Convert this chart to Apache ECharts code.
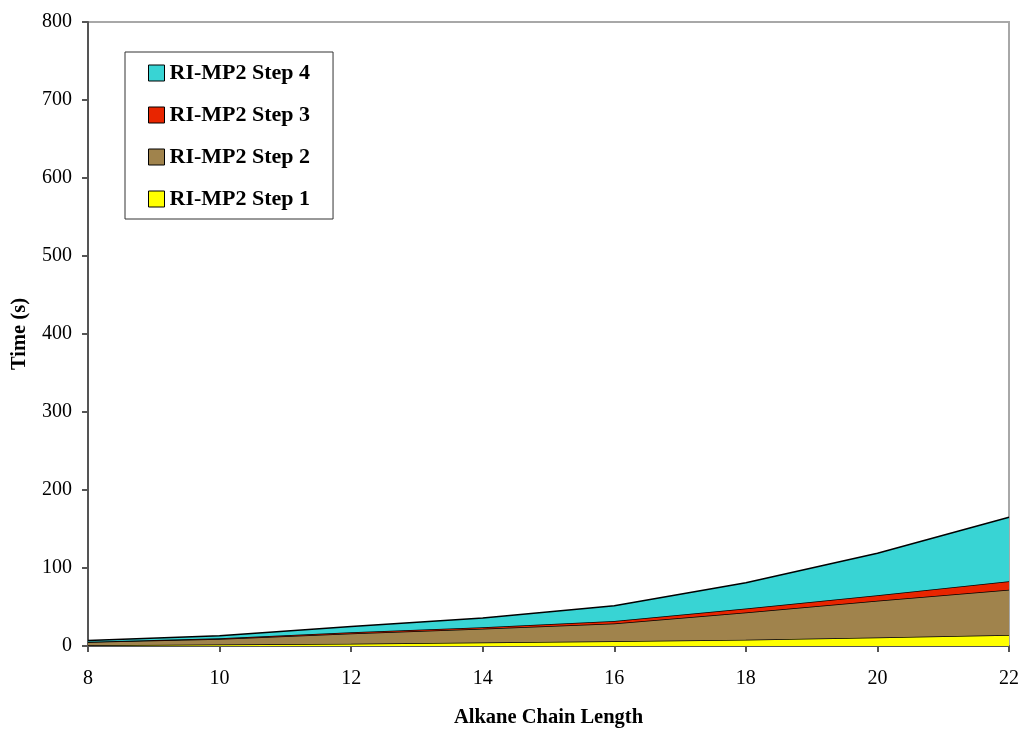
<!DOCTYPE html>
<html>
<head>
<meta charset="utf-8">
<script src="https://cdn.jsdelivr.net/npm/echarts@6/dist/echarts.min.js"></script>
<style>
html,body{margin:0;padding:0;background:#fff;}
#chart{width:1024px;height:732px;}
</style>
</head>
<body>
<div id="chart"></div>
<script>
const chainLength = ['8', '10', '12', '14', '16', '18', '20', '22'];
const step1 = [1, 2, 3, 4.5, 6, 8, 11, 14];
const step2 = [4, 7, 13, 17.5, 23, 35, 47, 58];
const step3 = [0.5, 1, 1.5, 2, 3, 5, 7, 11];
const step4 = [1.5, 3, 7.5, 12, 19.5, 33, 54, 82];
const seriesNames = ['RI-MP2 Step 1', 'RI-MP2 Step 2', 'RI-MP2 Step 3', 'RI-MP2 Step 4'];
const seriesColors = ['#ffff00', '#a0834c', '#e82500', '#38d4d4'];
const seriesData = [step1, step2, step3, step4];

const font = '"Liberation Serif", "Times New Roman", serif';
const chart = echarts.init(document.getElementById('chart'));
chart.setOption({
  animation: false,
  backgroundColor: '#fff',
  textStyle: { fontFamily: font },
  grid: { left: 88, right: 15, top: 22, bottom: 86, outerBoundsMode: 'none', containLabel: false, show: true, borderColor: '#a8a8a8', borderWidth: 2, backgroundColor: 'transparent' },
  legend: {
    orient: 'vertical',
    left: 125, top: 52,
    data: seriesNames.slice().reverse(),
    itemWidth: 16, itemHeight: 16,
    itemGap: 20,
    padding: [10, 23, 9, 23],
    borderColor: '#333', borderWidth: 1,
    icon: 'rect',
    itemStyle: { borderColor: '#000', borderWidth: 1 },
    textStyle: { fontFamily: font, fontSize: 22, fontWeight: 'bold', color: '#000' }
  },
  xAxis: {
    type: 'category', data: chainLength, boundaryGap: false,
    name: 'Alkane Chain Length', nameLocation: 'middle', nameGap: 61,
    nameTextStyle: { fontFamily: font, fontSize: 20.5, fontWeight: 'bold', color: '#000' },
    axisLine: { lineStyle: { color: '#555', width: 2 } },
    axisTick: { inside: false, length: 6, alignWithLabel: true, lineStyle: { color: '#555', width: 2 } },
    axisLabel: { margin: 23, fontFamily: font, fontSize: 20, color: '#000' },
    splitLine: { show: false }
  },
  yAxis: {
    type: 'value', min: 0, max: 800, interval: 100,
    name: 'Time (s)', nameLocation: 'middle', nameGap: 58, nameRotate: 90,
    nameTextStyle: { fontFamily: font, fontSize: 20.5, fontWeight: 'bold', color: '#000' },
    axisLine: { show: true, lineStyle: { color: '#555', width: 2 } },
    axisTick: { show: true, inside: false, length: 6, lineStyle: { color: '#555', width: 2 } },
    axisLabel: { margin: 16, fontFamily: font, fontSize: 20, color: '#000' },
    splitLine: { show: false }
  },
  series: seriesNames.map((name, i) => ({
    name: name,
    type: 'line',
    stack: 'total',
    symbol: 'none',
    data: seriesData[i],
    lineStyle: { color: '#000', width: 1.5 },
    itemStyle: { color: seriesColors[i], borderColor: '#000' },
    areaStyle: { color: seriesColors[i], opacity: 1 },
    z: 2 + i
  }))
});
</script>
</body>
</html>
